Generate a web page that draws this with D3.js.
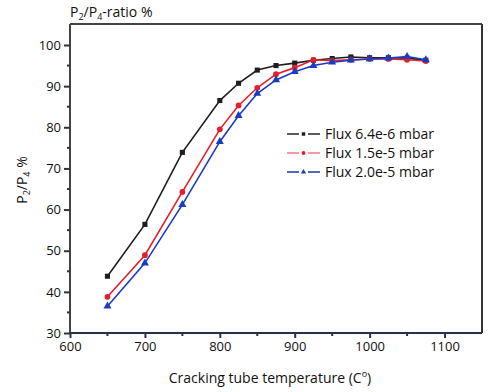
<!DOCTYPE html>
<html><head><meta charset="utf-8">
<script src="https://cdn.jsdelivr.net/npm/d3@7"></script>
<style>body{margin:0;background:#fff;} svg{display:block;font-family:"Open Sans",sans-serif;}</style>
</head><body>
<svg id="c" width="500" height="392"></svg>
<script>
const temps = [650,700,750,800,825,850,875,900,925,950,975,1000,1025,1050,1075];
const fluxA = [43.8,56.4,73.9,86.5,90.7,93.9,95.0,95.6,96.3,96.7,97.1,96.9,96.9,96.8,96.3];
const fluxB = [38.8,48.9,64.3,79.5,85.3,89.6,92.9,94.5,96.4,96.2,96.4,96.6,96.6,96.4,96.1];
const fluxC = [36.5,47.0,61.2,76.5,82.8,88.2,91.5,93.5,95.0,95.8,96.3,96.6,96.8,97.2,96.4];
const seriesNames = ["Flux 6.4e-6 mbar","Flux 1.5e-5 mbar","Flux 2.0e-5 mbar"];
const xTicks = [600,700,800,900,1000,1100];
const yTicks = [30,40,50,60,70,80,90,100];

const svg = d3.select("#c");
const L=70, R=482, T=24, B=333;
const x = d3.scaleLinear().domain([600,1150]).range([L,R]);
const y = d3.scaleLinear().domain([30,100]).range([B,45]);

const series = [
  {name:seriesNames[0], vals:fluxA, color:"#1e1e1e", legColor:"#333", shape:d3.symbolSquare, size:26},
  {name:seriesNames[1], vals:fluxB, color:"#e61e28", legColor:"#f08088", shape:d3.symbolCircle, size:26},
  {name:seriesNames[2], vals:fluxC, color:"#1c3cc0", legColor:"#2a40b0", shape:d3.symbolTriangle, size:28}
];

// frame top & right
svg.append("line").attr("x1",L).attr("x2",R).attr("y1",T).attr("y2",T).attr("stroke","#444").attr("stroke-width",2);
svg.append("line").attr("x1",R).attr("x2",R).attr("y1",T).attr("y2",B).attr("stroke","#333").attr("stroke-width",2);

// y axis
const yAx = svg.append("g").attr("transform",`translate(${L},0)`)
  .call(d3.axisLeft(y).tickValues(yTicks).tickSize(6).tickPadding(3).tickFormat(d3.format("d")));
yAx.select(".domain").attr("d",`M0,${T}V${B}`).attr("stroke","#444").attr("stroke-width",2);
yAx.selectAll(".tick line").attr("stroke","#333").attr("stroke-width",2);
yAx.selectAll("text").attr("font-size",13).attr("fill","#111").attr("font-family","Open Sans");
const yMinor = d3.range(35,100,10);
svg.append("g").selectAll("line").data(yMinor).join("line")
  .attr("x1",L-3).attr("x2",L).attr("y1",d=>y(d)).attr("y2",d=>y(d)).attr("stroke","#333").attr("stroke-width",2);

// x axis
const xAx = svg.append("g").attr("transform",`translate(0,${B})`)
  .call(d3.axisBottom(x).tickValues(xTicks).tickSize(5).tickPadding(4).tickFormat(d3.format("d")));
xAx.select(".domain").attr("d",`M${L},0H${R}`).attr("stroke","#26324a").attr("stroke-width",2);
xAx.selectAll(".tick line").attr("stroke","#26324a").attr("stroke-width",2);
xAx.selectAll("text").attr("font-size",13).attr("fill","#111").attr("font-family","Open Sans");
const xMinor = d3.range(650,1150,100);
svg.append("g").selectAll("line").data(xMinor).join("line")
  .attr("x1",d=>x(d)).attr("x2",d=>x(d)).attr("y1",B).attr("y2",B+3).attr("stroke","#26324a").attr("stroke-width",2);

// series
const line = d3.line().x((d,i)=>x(temps[i])).y(d=>y(d));
series.forEach(s=>{
  svg.append("path").datum(s.vals).attr("d",line).attr("fill","none").attr("stroke",s.color).attr("stroke-width",1.6);
  svg.append("g").selectAll("path").data(s.vals).join("path")
    .attr("transform",(d,i)=>`translate(${x(temps[i])},${y(d)})`)
    .attr("d",d3.symbol().type(s.shape).size(s.size)).attr("fill",s.color);
});

// legend
const legY = [134,153,172];
series.forEach((s,i)=>{
  const g = svg.append("g").attr("transform",`translate(287,${legY[i]})`);
  g.append("line").attr("x1",0).attr("x2",12).attr("y1",0).attr("y2",0).attr("stroke",s.legColor).attr("stroke-width",1.6);
  g.append("line").attr("x1",21).attr("x2",33).attr("y1",0).attr("y2",0).attr("stroke",s.legColor).attr("stroke-width",1.6);
  g.append("path").attr("transform","translate(16.5,0)").attr("d",d3.symbol().type(s.shape).size(12)).attr("fill",s.color);
  g.append("text").attr("x",38).attr("y",5).attr("font-size",14).attr("fill","#111").text(s.name);
});

// title
const t = svg.append("text").attr("x",70).attr("y",17).attr("font-size",14).attr("fill","#111");
t.append("tspan").text("P");
t.append("tspan").attr("font-size",9).attr("dy",3).text("2");
t.append("tspan").attr("dy",-3).text("/P");
t.append("tspan").attr("font-size",9).attr("dy",3).text("4");
t.append("tspan").attr("dy",-3).text("-ratio %");

// y label
const yl = svg.append("text").attr("transform","translate(27,180) rotate(-90)").attr("text-anchor","middle").attr("font-size",14).attr("fill","#111");
yl.append("tspan").text("P");
yl.append("tspan").attr("font-size",9).attr("dy",3).text("2");
yl.append("tspan").attr("dy",-3).text("/P");
yl.append("tspan").attr("font-size",9).attr("dy",3).text("4");
yl.append("tspan").attr("dy",-3).text(" %");

// x label
const xl = svg.append("text").attr("x",270).attr("y",383).attr("text-anchor","middle").attr("font-size",14).attr("fill","#111");
xl.append("tspan").text("Cracking tube temperature (C");
xl.append("tspan").attr("font-size",9).attr("dy",-6).text("o");
xl.append("tspan").attr("dy",6).text(")");
</script>
</body></html>
